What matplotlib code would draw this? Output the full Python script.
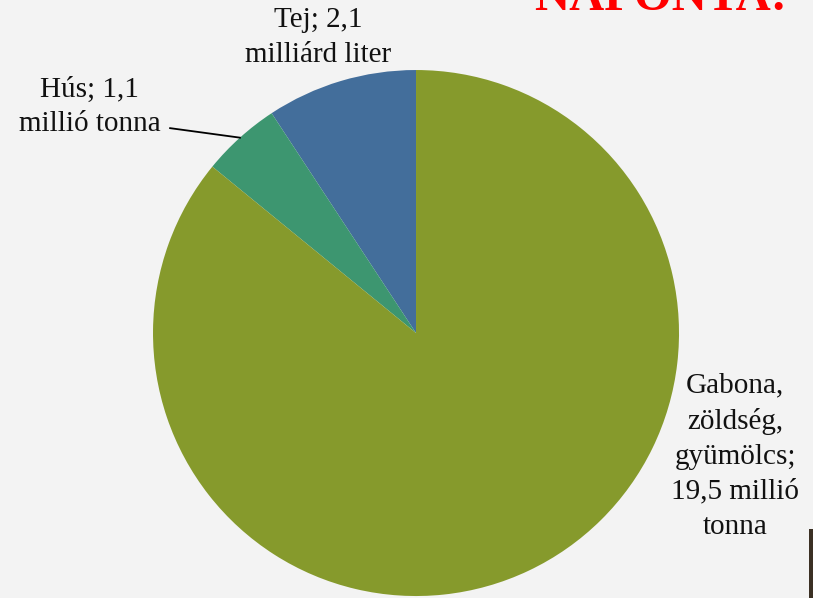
import matplotlib.pyplot as plt
import numpy as np
from matplotlib.patches import Rectangle

labels = ["Tej; 2,1\nmilliárd liter", "Hús; 1,1\nmillió tonna",
          "Gabona,\nzöldség,\ngyümölcs;\n19,5 millió\ntonna"]
values = [2.1, 1.1, 19.5]
colors = ["#436e9b", "#3d9670", "#869a2c"]
title = "NAPONTA:"

fig = plt.figure(figsize=(8.13, 5.98), dpi=100)
fig.patch.set_facecolor("#f3f3f3")

ax = fig.add_axes([0.1882, 0.0033, 0.647, 0.8796])
ax.set_facecolor("none")
wedges, _ = ax.pie(values, colors=colors, startangle=90, counterclock=True,
                   radius=1.0, wedgeprops=dict(linewidth=0))
ax.set_xlim(-1, 1)
ax.set_ylim(-1, 1)
ax.set_aspect("equal")
ax.axis("off")

font = dict(family="Liberation Serif", fontsize=21, color="#111111",
            ha="center", va="center", linespacing=1.45)

# label positions (data coords)
pos = [(-0.373, 1.125), (-1.24, 0.86), (1.213, -0.468)]
for lab, (x, y) in zip(labels, pos):
    ax.text(x, y, lab, clip_on=False, **font)

# leader line for Hús
w = wedges[1]
mid = np.deg2rad((w.theta1 + w.theta2) / 2)
ax.plot([-0.935, np.cos(mid)], [0.779, np.sin(mid)], color="black",
        lw=1.3, clip_on=False)

fig.text(0.812, 0.983, title, color="#ff0000", fontsize=35, fontweight="bold",
         family="Liberation Serif", ha="center", va="baseline")

fig.patches.append(Rectangle((0.9951, 0), 0.006, 0.115, transform=fig.transFigure,
                             facecolor="#3b3024", edgecolor="none"))

fig.savefig("out.png", dpi=100, facecolor=fig.get_facecolor())
